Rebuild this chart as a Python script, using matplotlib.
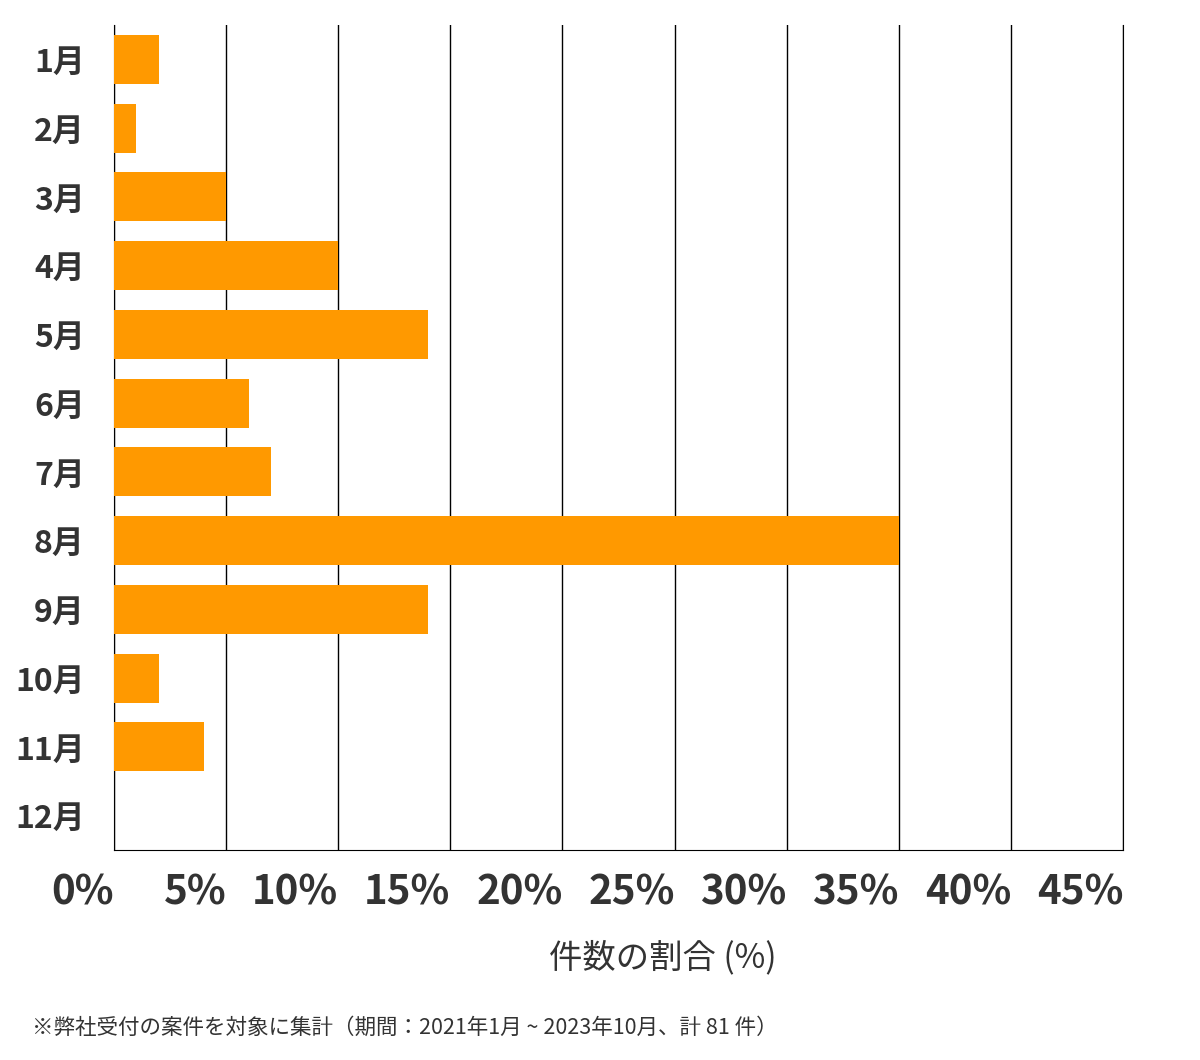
import numpy as np
import matplotlib
matplotlib.use('Agg')
import matplotlib.pyplot as plt

plt.rcParams['font.family'] = ['Noto Sans CJK JP', 'DejaVu Sans']

months = ['1月', '2月', '3月', '4月', '5月', '6月', '7月', '8月', '9月', '10月', '11月', '12月']
share = [2, 1, 5, 10, 14, 6, 7, 35, 14, 2, 4, 0]
xticks = [0, 5, 10, 15, 20, 25, 30, 35, 40, 45]
xtick_labels = ['0%', '5%', '10%', '15%', '20%', '25%', '30%', '35%', '40%', '45%']

text_col = '#333333'

fig = plt.figure(figsize=(12, 10.6), dpi=100)
ax = fig.add_axes([114/1200, 1 - 850/1060, (1123-114)/1200, (850-25)/1060])

pos = np.arange(len(months))
ax.barh(pos, share, height=0.71, color='#ff9900', zorder=3)
ax.set_ylim(len(months) - 0.5, -0.5)
ax.set_xlim(0, 45)

ax.set_xticks(xticks)
ax.set_xticklabels(xtick_labels, fontsize=29, fontweight='bold', color=text_col, ha='right')
ax.set_yticks(pos)
ax.set_yticklabels(months, fontsize=23, fontweight='bold', color=text_col)
ax.tick_params(axis='x', length=0, pad=16)
ax.tick_params(axis='y', length=0, pad=21)

# vertical grid lines in black
ax.grid(axis='x', color='#000000', linewidth=1, zorder=1)
ax.spines['top'].set_visible(False)
for s in ['left', 'right', 'bottom']:
    ax.spines[s].set_color('#000000')

fig.text(663/1200, 1 - 958/1060, '件数の割合 (%)', fontsize=24, color=text_col, ha='center', va='center')
fig.text(32/1200, 1 - 1028/1060, '※弊社受付の案件を対象に集計（期間：2021年1月 ~ 2023年10月、計 81 件）',
         fontsize=15.5, color=text_col, ha='left', va='center')

fig.savefig('out.png', dpi=100)
